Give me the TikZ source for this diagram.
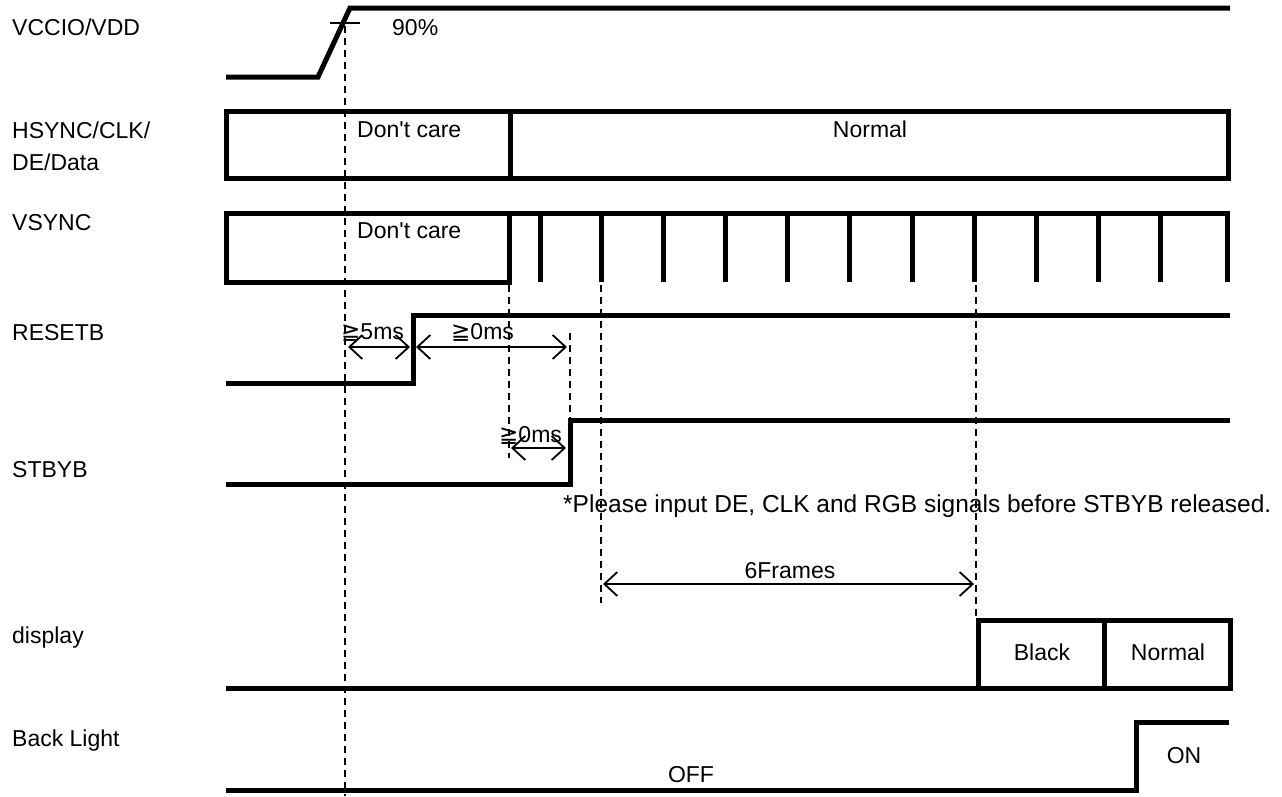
\documentclass[tikz,border=0pt]{standalone}
\usepackage{fontspec}
\setmainfont[Ligatures=TeXOff]{Liberation Sans}
\newfontfamily\symfont{DejaVu Sans}
\usetikzlibrary{arrows.meta}
\newcommand{\atleast}{{\symfont ≧}}
\tikzset{
  wave/.style={line width=5pt, line join=miter},
  guide/.style={line width=1.8pt, dash pattern=on 7pt off 5pt},
  span/.style={line width=1.8pt, {Straight Barb[length=13pt,width=24pt]}-{Straight Barb[length=13pt,width=24pt]}},
  sig/.style={anchor=base west, inner sep=0pt, font=\fontsize{23}{27}\selectfont},
  lbl/.style={anchor=base, inner sep=0pt, font=\fontsize{23}{27}\selectfont}
}
\begin{document}
\begin{tikzpicture}[x=1pt,y=-1pt]
\useasboundingbox (0,0) rectangle (1282,796);

% signal names
\node[sig] (nvdd) at (12,35) {VCCIO/VDD};
\node[sig] (nhs) at (12,138) {HSYNC/CLK/};
\node[sig] (nde) at (12,170) {DE/Data};
\node[sig] (nvs) at (12,230) {VSYNC};
\node[sig] (nrst) at (12,340) {RESETB};
\node[sig] (nstb) at (12,477) {STBYB};
\node[sig] (ndisp) at (12,643) {display};
\node[sig] (nbl) at (12,746) {Back Light};

% VCCIO/VDD
\draw[wave] (226,77) -- (318,77) -- (350,8) -- (1230,8);
\draw[line width=1.8pt] (330,23) -- (360,23);
\node[lbl, anchor=base west] (p90) at (392,35) {90\%};

% HSYNC/CLK/DE/Data
\draw[wave] (226,111) rectangle (1228,178);
\draw[wave] (510,111) -- (510,178);
\node[lbl, anchor=base west] (hdc) at (357,137) {Don't care};
\node[lbl] (hnorm) at (870,137) {Normal};

% VSYNC
\draw[wave] (509,213) -- (226,213) -- (226,282) -- (509,282) -- (509,213) -- (1227,213) -- (1227,282);
\foreach \x in {540,601,663,725,787,849,912,974,1036,1098,1160}
\draw[wave] (\x,213) -- (\x,282);
\node[lbl, anchor=base west] (vdc) at (357,238) {Don't care};

% RESETB
\draw[wave] (226,383) -- (413,383) -- (413,315) -- (1230,315);

% STBYB
\draw[wave] (226,484) -- (570,484) -- (570,420) -- (1230,420);

% display
\draw[wave] (226,688) -- (978,688);
\draw[wave] (978,620) rectangle (1230,688);
\draw[wave] (1104,620) -- (1104,688);
\node[lbl] (dblk) at (1042,660) {Black};
\node[lbl] (dnorm) at (1168,660) {Normal};

% Back Light
\draw[wave] (226,790) -- (1136,790) -- (1136,722) -- (1229,722);
\node[lbl] (bon) at (1184,763) {ON};
\node[lbl] (boff) at (691,782) {OFF};

% guide lines
\draw[guide] (345,14) -- (345,796);
\draw[guide] (509,285) -- (509,458);
\draw[guide] (570,333) -- (570,418);
\draw[guide] (601,285) -- (601,603);
\draw[guide] (976,285) -- (976,618);

% timings
\coordinate (r0) at (348,347);
\coordinate (r1) at (410,347);
\coordinate (r2) at (416,347);
\coordinate (r3) at (567,347);
\coordinate (s0) at (511,448);
\coordinate (s1) at (566,448);
\coordinate (f0) at (603,584);
\coordinate (f1) at (974,584);
\draw[span] (r0) -- (r1);
\draw[span] (r2) -- (r3);
\draw[span] (s0) -- (s1);
\draw[span] (f0) -- (f1);
\node[lbl, anchor=base west] (t5) at (341,339) {\atleast5ms};
\node[lbl, anchor=base west] (t0a) at (451,339) {\atleast0ms};
\node[lbl, anchor=base west] (t0b) at (499,442) {\atleast0ms};
\node[lbl] (t6) at (790,578) {6Frames};

\node[lbl, anchor=base west, font=\fontsize{24.5}{28}\selectfont] (note) at (563,512) {*Please input DE, CLK and RGB signals before STBYB released.};
\end{tikzpicture}
\end{document}
